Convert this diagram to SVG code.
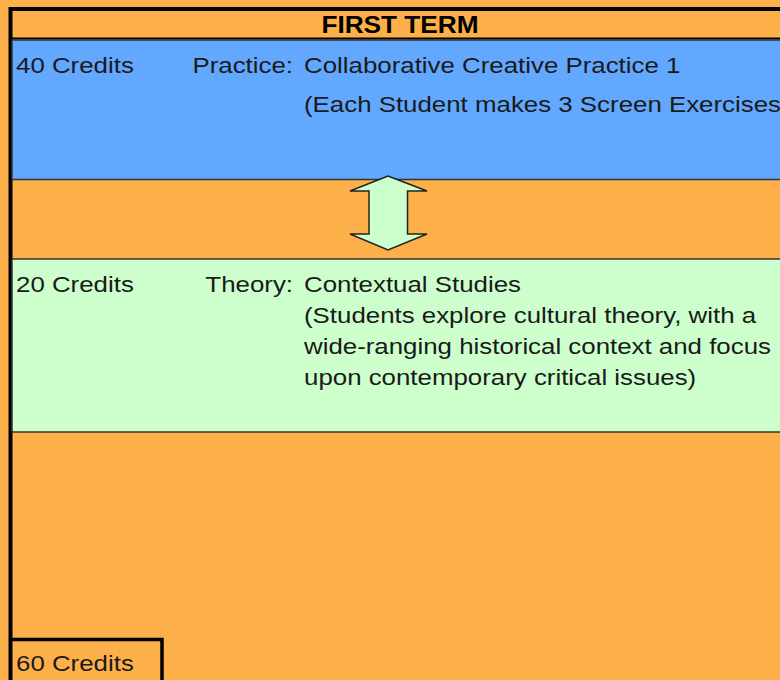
<svg xmlns="http://www.w3.org/2000/svg" width="780" height="680" viewBox="0 0 780 680">
<style>
.t{font-family:"Liberation Sans",Arial,sans-serif;font-size:22px;fill:#1a1a1a}
.h{font-family:"Liberation Sans",Arial,sans-serif;font-size:24.5px;font-weight:bold;fill:#000}
</style>
<rect x="0" y="0" width="780" height="680" fill="#FDB04A"/>
<g id="frame">
<path d="M10.5 680 V9 H790" fill="none" stroke="#000" stroke-width="4"/>
<line x1="12" y1="38.5" x2="790" y2="38.5" stroke="#000" stroke-width="2"/>
<text class="h" transform="translate(400,32.5) scale(1.07,1)" text-anchor="middle">FIRST TERM</text>
</g>
<g id="practice">
<rect x="12" y="40" width="780" height="139.5" fill="#62A8FE" stroke="#333" stroke-width="1.5"/>
<text class="t" transform="translate(16,73) scale(1.175,1)">40 Credits</text>
<text class="t" transform="translate(293,73) scale(1.175,1)" text-anchor="end">Practice:</text>
<text class="t" transform="translate(304,73) scale(1.175,1)">Collaborative Creative Practice 1</text>
<text class="t" transform="translate(304,112) scale(1.175,1)">(Each Student makes 3 Screen Exercises</text>
</g>
<g id="connectors">
<path d="M388 176 L427 191 L407.5 191 L407.5 234 L427 234 L388 250 L350 234 L369 234 L369 191 L350 191 Z" fill="#CCFFCC" stroke="#222" stroke-width="1.5" stroke-linejoin="miter"/>
</g>
<g id="theory">
<rect x="12" y="259" width="780" height="173" fill="#CCFFCC" stroke="#333" stroke-width="1.5"/>
<text class="t" transform="translate(16,292) scale(1.175,1)">20 Credits</text>
<text class="t" transform="translate(293,292) scale(1.175,1)" text-anchor="end">Theory:</text>
<text class="t" transform="translate(304,292) scale(1.175,1)">Contextual Studies</text>
<text class="t" transform="translate(304,323) scale(1.175,1)">(Students explore cultural theory, with a</text>
<text class="t" transform="translate(304,354) scale(1.175,1)">wide-ranging historical context and focus</text>
<text class="t" transform="translate(304,385) scale(1.175,1)">upon contemporary critical issues)</text>
</g>
<g id="total">
<path d="M12 639.5 H162 V682" fill="none" stroke="#000" stroke-width="3.5"/>
<text class="t" transform="translate(16,671) scale(1.175,1)">60 Credits</text>
</g>
</svg>
